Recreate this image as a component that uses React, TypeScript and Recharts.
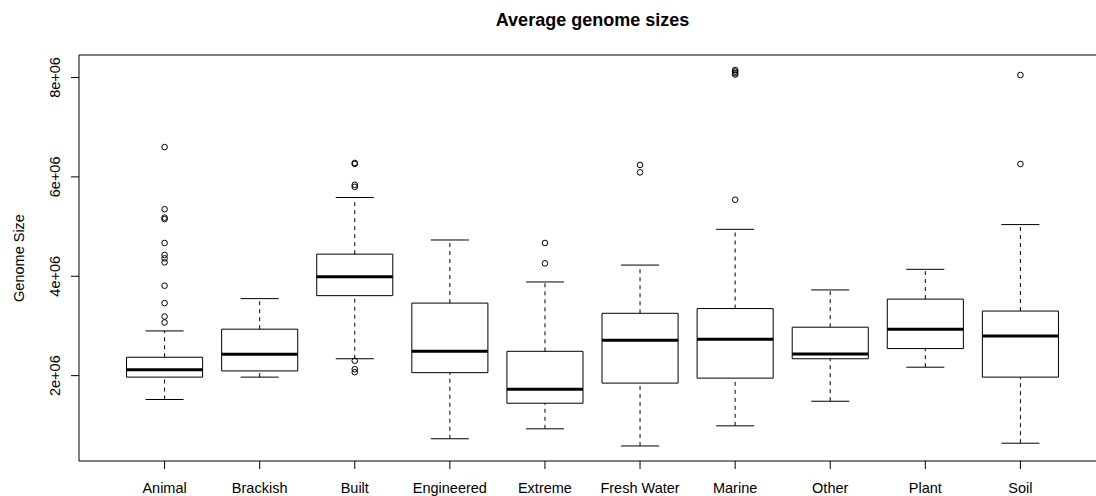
import React from "react"
import {
  ComposedChart,
  XAxis,
  YAxis,
  Scatter,
  ReferenceArea,
  ReferenceLine,
} from "recharts"

const categories = [
  "Animal",
  "Brackish",
  "Built",
  "Engineered",
  "Extreme",
  "Fresh Water",
  "Marine",
  "Other",
  "Plant",
  "Soil",
]

// five-number summaries
const whiskerLow = [1.52e6, 1.97e6, 2.34e6, 0.73e6, 0.93e6, 0.585e6, 0.99e6, 1.485e6, 2.17e6, 0.64e6]
const q1 = [1.97e6, 2.095e6, 3.61e6, 2.06e6, 1.445e6, 1.85e6, 1.95e6, 2.34e6, 2.545e6, 1.97e6]
const median = [2.12e6, 2.43e6, 3.99e6, 2.49e6, 1.725e6, 2.71e6, 2.73e6, 2.435e6, 2.935e6, 2.8e6]
const q3 = [2.37e6, 2.935e6, 4.445e6, 3.46e6, 2.49e6, 3.255e6, 3.35e6, 2.975e6, 3.54e6, 3.3e6]
const whiskerHigh = [2.9e6, 3.55e6, 5.585e6, 4.73e6, 3.885e6, 4.225e6, 4.945e6, 3.725e6, 4.14e6, 5.04e6]

const outliers = [
  [6.6e6, 5.35e6, 5.18e6, 5.15e6, 4.67e6, 4.43e6, 4.36e6, 4.28e6, 3.81e6, 3.46e6, 3.19e6, 3.07e6],
  [],
  [6.28e6, 6.26e6, 5.84e6, 5.8e6, 2.3e6, 2.13e6, 2.07e6],
  [],
  [4.67e6, 4.26e6],
  [6.24e6, 6.09e6],
  [8.15e6, 8.12e6, 8.09e6, 8.06e6, 5.54e6],
  [],
  [],
  [8.05e6, 6.26e6],
]

const yTicks = [2e6, 4e6, 6e6, 8e6]

const BOX_HALF = 0.4
const CAP_HALF = 0.2
const FONT = "'Liberation Sans', Arial, sans-serif"

// R style range: data range extended by 4% each side
const allValues = [...whiskerLow, ...whiskerHigh, ...outliers.flat()]
const yMin = Math.min(...allValues)
const yMax = Math.max(...allValues)
const yPad = (yMax - yMin) * 0.04
const yDomain = [yMin - yPad, yMax + yPad]

const outlierPoints = outliers.flatMap((vals, i) => vals.map((v) => ({ x: i + 1, y: v })))

const fmtSci = (v: number) => `${Math.round(v / 1e6)}e+06`

const YTick = ({ x, y, payload }: any) => (
  <text
    x={x}
    y={y}
    transform={`rotate(-90 ${x} ${y})`}
    textAnchor="middle"
    fontSize={14.5}
    fill="#000"
    fontFamily={FONT}
  >
    {fmtSci(payload.value)}
  </text>
)

const OpenCircle = (p: any) => (
  <circle cx={p.cx} cy={p.cy} r={2.8} fill="none" stroke="#000" strokeWidth={1} />
)

export default function App() {
  return (
    <div
      style={{
        position: "absolute",
        left: 0,
        top: 0,
        width: 1096,
        height: 496,
        overflow: "hidden",
        background: "#fff",
        fontFamily: FONT,
      }}
    >
      <div
        style={{
          position: "absolute",
          left: 79,
          width: 1027,
          top: 11,
          textAlign: "center",
          fontSize: 18,
          lineHeight: "18px",
          fontWeight: "bold",
          color: "#000",
        }}
      >
        Average genome sizes
      </div>
      <ComposedChart width={1106} height={496} margin={{ top: 55, right: 0, bottom: 0, left: 0 }}>
        <XAxis
          type="number"
          dataKey="x"
          domain={[0.1, 10.9]}
          allowDataOverflow
          ticks={[1, 2, 3, 4, 5, 6, 7, 8, 9, 10]}
          interval={0}
          tickFormatter={(v) => categories[v - 1]}
          height={35}
          tickSize={8}
          tickMargin={14}
          stroke="#000"
          tick={{ fontSize: 14.5, fill: "#000", fontFamily: FONT }}
        />
        <YAxis
          type="number"
          dataKey="y"
          domain={yDomain}
          allowDataOverflow
          ticks={yTicks}
          interval={0}
          width={79}
          tickSize={8}
          tickMargin={11}
          stroke="#000"
          tick={<YTick />}
          label={{
            value: "Genome Size",
            angle: -90,
            position: "insideLeft",
            offset: 19,
            style: { textAnchor: "middle", fill: "#000", fontSize: 14.5, fontFamily: FONT },
          }}
        />
        <ReferenceLine y={yDomain[1]} stroke="#000" ifOverflow="visible" />

        {categories.map((c, i) => {
          const x = i + 1
          return (
            <React.Fragment key={c}>
              <ReferenceLine
                segment={[{ x, y: q3[i] }, { x, y: whiskerHigh[i] }]}
                stroke="#000"
                strokeDasharray="4 4"
              />
              <ReferenceLine
                segment={[{ x, y: whiskerLow[i] }, { x, y: q1[i] }]}
                stroke="#000"
                strokeDasharray="4 4"
              />
              <ReferenceLine
                segment={[{ x: x - CAP_HALF, y: whiskerHigh[i] }, { x: x + CAP_HALF, y: whiskerHigh[i] }]}
                stroke="#000"
              />
              <ReferenceLine
                segment={[{ x: x - CAP_HALF, y: whiskerLow[i] }, { x: x + CAP_HALF, y: whiskerLow[i] }]}
                stroke="#000"
              />
              <ReferenceArea
                x1={x - BOX_HALF}
                x2={x + BOX_HALF}
                y1={q1[i]}
                y2={q3[i]}
                fill="none"
                stroke="#000"
                strokeWidth={1}
              />
              <ReferenceLine
                segment={[{ x: x - BOX_HALF, y: median[i] }, { x: x + BOX_HALF, y: median[i] }]}
                stroke="#000"
                strokeWidth={3}
              />
            </React.Fragment>
          )
        })}

        <Scatter data={outlierPoints} dataKey="y" shape={<OpenCircle />} isAnimationActive={false} />
      </ComposedChart>
    </div>
  )
}
